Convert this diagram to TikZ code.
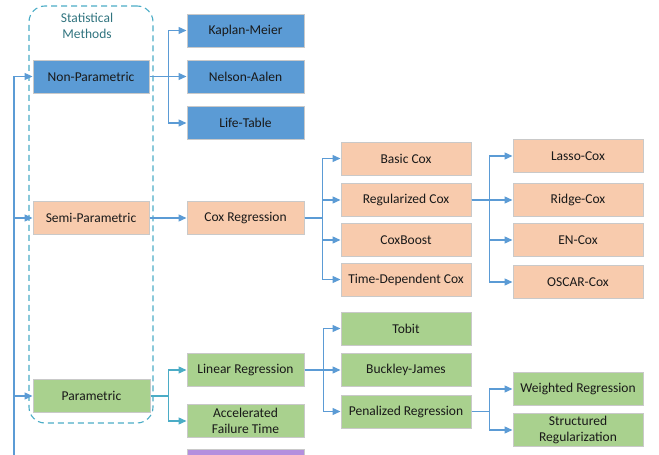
\documentclass[tikz,border=0pt]{standalone}
\usepackage{fontspec}
\setmainfont{Carlito}
\usetikzlibrary{arrows.meta}
\definecolor{cblue}{HTML}{5B9BD5}
\definecolor{corange}{HTML}{F8CBAD}
\definecolor{cgreen}{HTML}{A9D18E}
\definecolor{cpurple}{HTML}{B48FDE}
\definecolor{cline}{HTML}{5B9BD5}
\definecolor{cteal}{HTML}{4BACC6}
\definecolor{ctext}{HTML}{31747F}
\definecolor{cborder}{HTML}{C9C9C9}
\begin{document}
\begin{tikzpicture}[x=1pt,y=-1pt,
  font=\fontsize{13.5}{16}\selectfont,
  box/.style={draw=cborder, line width=1pt, minimum height=33pt, inner sep=0pt, align=center, text=black!90},
  wa/.style={box, minimum width=116pt},
  wb/.style={box, minimum width=130pt},
  arr/.style={draw=cline, line width=1.3pt, -{Triangle[length=8pt,width=7pt]}},
  arrt/.style={arr, draw=cteal},
  ]
\useasboundingbox (0,0) rectangle (659,455);
\clip (0,0) rectangle (659,455);
% container
\node[draw=cteal, dashed, dash pattern=on 6pt off 4pt, line width=1.1pt, rounded corners=16pt,
  minimum width=124pt, minimum height=417pt, inner sep=0pt] (cont) at (91,214.5) {};
\node[text=ctext, align=center] (title) at (87,26) {Statistical\\Methods};
% first level
\node[wa, fill=cblue] (np) at (91,76.5) {Non-Parametric};
\node[wa, fill=corange] (sp) at (91,218) {Semi-Parametric};
\node[wa, fill=cgreen, minimum width=117pt] (pa) at (91.5,396) {Parametric};
% non-parametric children
\node[wa, fill=cblue, minimum width=117pt] (km) at (245.5,30.5) {Kaplan-Meier};
\node[wa, fill=cblue, minimum width=117pt] (na) at (245.5,76.5) {Nelson-Aalen};
\node[wa, fill=cblue, minimum width=117pt] (lt) at (245.5,123) {Life-Table};
% semi-parametric
\node[wa, fill=corange, minimum width=117pt] (cr) at (245.5,218) {Cox Regression};
\node[wb, fill=corange] (bc) at (406,158.5) {Basic Cox};
\node[wb, fill=corange] (rc) at (406,200) {Regularized Cox};
\node[wb, fill=corange] (cb) at (406,240) {CoxBoost};
\node[wb, fill=corange] (td) at (406,279.5) {Time-Dependent Cox};
\node[wb, fill=corange] (lc) at (578,156) {Lasso-Cox};
\node[wb, fill=corange] (rdc) at (578,200) {Ridge-Cox};
\node[wb, fill=corange] (en) at (578,240) {EN-Cox};
\node[wb, fill=corange] (os) at (578,282) {OSCAR-Cox};
% parametric
\node[wa, fill=cgreen, minimum width=117pt] (lr) at (245.5,370) {Linear Regression};
\node[wa, fill=cgreen, minimum width=117pt] (aft) at (245.5,421) {Accelerated\\Failure Time};
\node[wa, fill=cpurple, minimum width=117pt] (pu) at (245.5,466) {};
\node[wb, fill=cgreen] (tob) at (406,328.5) {Tobit};
\node[wb, fill=cgreen] (bj) at (406,370) {Buckley-James};
\node[wb, fill=cgreen] (pr) at (406,411.5) {Penalized Regression};
\node[wb, fill=cgreen] (wr) at (578,389) {Weighted Regression};
\node[wb, fill=cgreen] (srg) at (578,430) {Structured\\Regularization};
% root line
\coordinate (root) at (14,470);
\draw[arr] (root) |- (np.west);
\draw[arr] (root) |- (sp.west);
\draw[arr] (root) |- (pa.west);
% non-parametric connectors
\draw[arr] (np.east) -- ++(19,0) |- (km.west);
\draw[arr] (np.east) -- (na.west);
\draw[arr] (np.east) -- ++(19,0) |- (lt.west);
% semi
\draw[arr] (sp.east) -- (cr.west);
\draw[arr] (cr.east) -- ++(18,0) |- (bc.west);
\draw[arr] (cr.east) -- ++(18,0) |- (rc.west);
\draw[arr] (cr.east) -- ++(18,0) |- (cb.west);
\draw[arr] (cr.east) -- ++(18,0) |- (td.west);
\draw[arr] (rc.east) -- ++(18,0) |- (lc.west);
\draw[arr] (rc.east) -- (rdc.west);
\draw[arr] (rc.east) -- ++(18,0) |- (en.west);
\draw[arr] (rc.east) -- ++(18,0) |- (os.west);
% parametric
\draw[arrt] (pa.east) -- ++(18,0) |- (lr.west);
\draw[arrt] (pa.east) -- ++(18,0) |- (aft.west);
\draw[arr] (lr.east) -- ++(19,0) |- (tob.west);
\draw[arr] (lr.east) -- (bj.west);
\draw[arr] (lr.east) -- ++(19,0) |- (pr.west);
\draw[arr] (pr.east) -- ++(18,0) |- (wr.west);
\draw[arr] (pr.east) -- ++(18,0) |- (srg.west);
\end{tikzpicture}
\end{document}
